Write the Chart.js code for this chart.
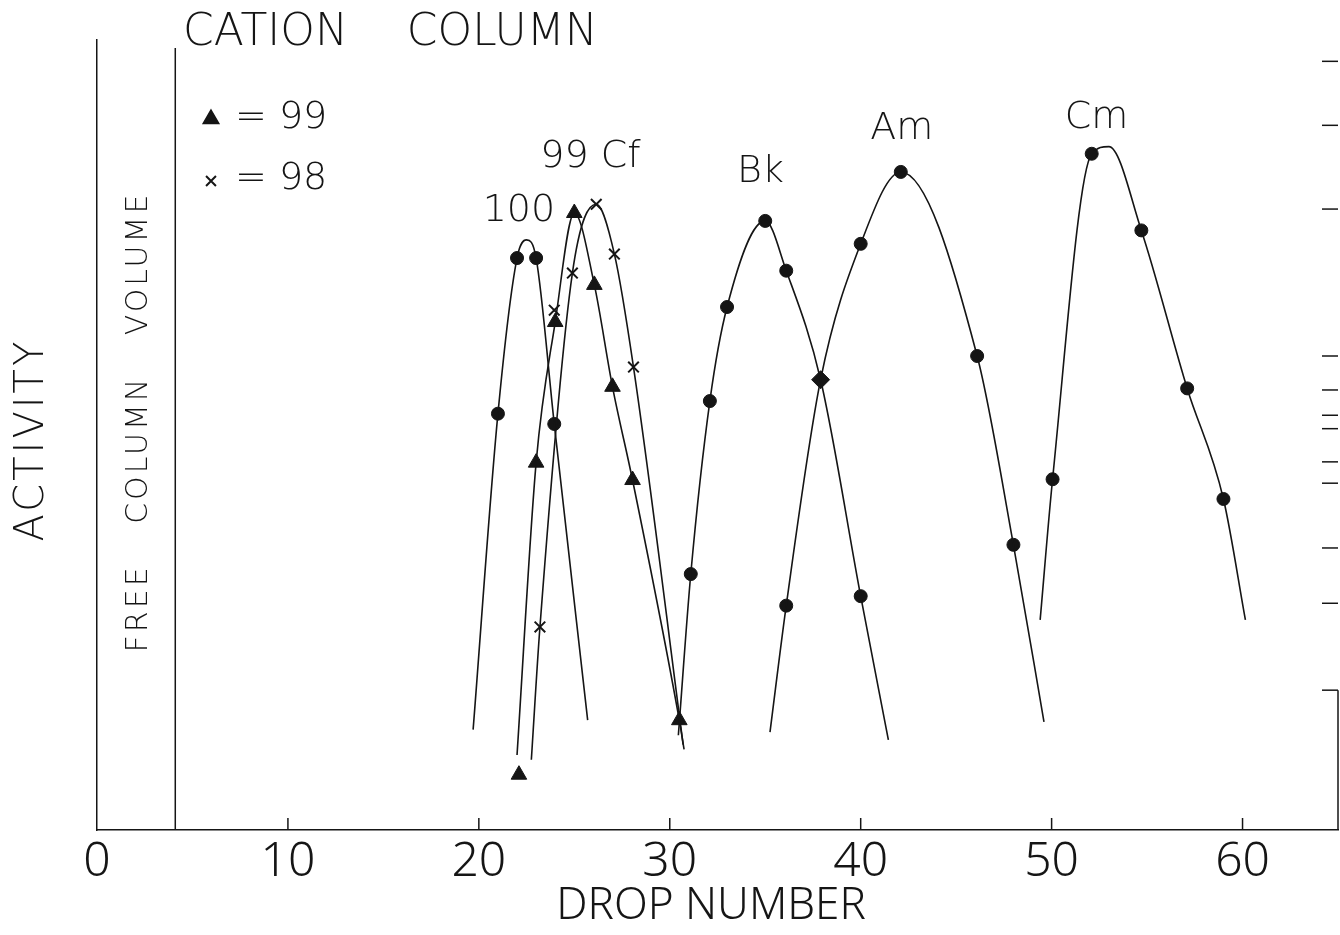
<!DOCTYPE html>
<html>
<head>
<meta charset="utf-8">
<title>Cation column</title>
<script src="https://cdn.jsdelivr.net/npm/chart.js@4.4.1/dist/chart.umd.min.js"></script>
<style>
  html, body { margin: 0; padding: 0; background: #ffffff; }
</style>
</head>
<body>
<canvas id="colunaCations" width="1340" height="935"></canvas>
<script>
// tick labels of the drop axis
const xTickValues = [0, 10, 20, 30, 40, 50, 60]

// element 100 (filled circles)
const fmDrops = [21.0, 22.0, 23.0, 23.95]
const fmActivity = [52.7, 72.4, 72.4, 51.4]
const fmCurveDrops = [19.7, 21.0, 22.0, 22.5, 23.0, 23.95, 25.7]
const fmCurveActivity = [12.7, 52.7, 72.4, 74.7, 72.4, 51.4, 13.9]

// element 99 (triangles)
const esDrops = [22.1, 23.0, 24.0, 25.0, 26.05, 27.0, 28.05, 30.5]
const esActivity = [7.0, 46.5, 64.3, 78.1, 69.0, 56.1, 44.3, 13.9]
const esCurveDrops = [22.0, 23.0, 24.0, 25.0, 26.05, 27.0, 28.05, 30.5, 30.75]
const esCurveActivity = [9.5, 46.5, 64.3, 78.1, 69.0, 56.1, 44.3, 13.9, 10.2]

// element 98, Cf (crosses)
const cfDrops = [23.2, 23.95, 24.9, 26.15, 27.1, 28.1]
const cfActivity = [25.7, 65.8, 70.5, 79.2, 72.9, 58.6]
const cfCurveDrops = [22.75, 23.2, 24.9, 26.15, 27.1, 28.1, 30.7]
const cfCurveActivity = [8.9, 25.7, 70.5, 79.2, 72.9, 58.6, 10.8]

// Bk
const bkDrops = [31.1, 32.1, 33.0, 35.0, 36.1, 40.0]
const bkActivity = [32.4, 54.3, 66.2, 77.1, 70.8, 29.6]
const bkCurveDrops = [30.45, 31.1, 32.1, 33.0, 35.0, 36.1, 37.9, 40.0, 41.45]
const bkCurveActivity = [12.0, 32.4, 54.3, 66.2, 77.1, 70.8, 57.0, 29.6, 11.4]

// point where Bk and Am cross (diamond)
const crossDrops = [37.9]
const crossActivity = [57.0]

// Am
const amDrops = [36.1, 40.0, 42.1, 46.1, 48.0]
const amActivity = [28.4, 74.2, 83.3, 60.0, 36.1]
const amCurveDrops = [35.25, 36.1, 37.9, 40.0, 42.1, 46.1, 48.0, 49.6]
const amCurveActivity = [12.4, 28.4, 57.0, 74.2, 83.3, 60.0, 36.1, 13.7]

// Cm
const cmDrops = [50.05, 52.1, 54.7, 57.1, 59.0]
const cmActivity = [44.4, 85.6, 75.9, 55.9, 41.9]
const cmCurveDrops = [49.4, 50.05, 52.1, 53.0, 54.7, 57.1, 59.0, 60.15]
const cmCurveActivity = [26.6, 44.4, 85.6, 86.5, 75.9, 55.9, 41.9, 26.6]

// free column volume line and right-hand scale ticks
const freeVolumeDrop = 4.1
const rightTickActivity = [97.3, 89.2, 78.6, 60.0, 55.7, 52.5, 50.8, 46.6, 43.9, 35.7, 28.7, 17.7]

// peak labels
const peakLabels = ["100", "99 Cf", "Bk", "Am", "Cm"]
const peakLabelDrops = [22.1, 25.85, 34.75, 42.15, 52.35]
const peakLabelActivity = [78.4, 85.2, 83.3, 88.7, 90.1]

const FONTE = "'DejaVu Sans', sans-serif"
const FONTE_ESTREITA = "'Noto Sans', 'DejaVu Sans', sans-serif"
const TINTA = '#151515'

function pontos(xs, ys) {
    return xs.map((v, i) => ({ x: v, y: ys[i] }))
}

function curva(xs, ys) {
    return {
        type: 'line',
        data: pontos(xs, ys),
        borderColor: TINTA,
        borderWidth: 1.6,
        pointRadius: 0,
        cubicInterpolationMode: 'monotone',
        fill: false
    }
}

function marcadores(xs, ys, estilo, raio) {
    const cruz = estilo === 'crossRot'
    return {
        type: 'scatter',
        data: pontos(xs, ys),
        pointStyle: estilo,
        pointRadius: raio,
        pointBackgroundColor: TINTA,
        pointBorderColor: TINTA,
        pointBorderWidth: cruz ? 2 : 1,
        showLine: false
    }
}

const anotacoes = {
    id: 'anotacoes',
    afterDraw(chart) {
        const { ctx, scales: { x, y } } = chart
        ctx.save()
        ctx.strokeStyle = TINTA
        ctx.fillStyle = TINTA
        ctx.lineWidth = 1.5

        // inner ticks on the drop axis
        xTickValues.slice(1).forEach(v => {
            const px = x.getPixelForValue(v)
            ctx.beginPath()
            ctx.moveTo(px, y.bottom)
            ctx.lineTo(px, y.bottom - 12)
            ctx.stroke()
        })

        // free column volume line
        const fx = x.getPixelForValue(freeVolumeDrop)
        ctx.beginPath()
        ctx.moveTo(fx, y.getPixelForValue(99))
        ctx.lineTo(fx, y.bottom)
        ctx.stroke()

        // right-hand edge with its ticks
        const rx = x.right
        ctx.beginPath()
        ctx.moveTo(rx, y.getPixelForValue(rightTickActivity[rightTickActivity.length - 1]))
        ctx.lineTo(rx, y.bottom)
        ctx.stroke()
        rightTickActivity.forEach(v => {
            const py = y.getPixelForValue(v)
            ctx.beginPath()
            ctx.moveTo(rx, py)
            ctx.lineTo(rx - 16, py)
            ctx.stroke()
        })

        // peak labels
        ctx.textAlign = 'center'
        ctx.textBaseline = 'middle'
        ctx.font = '200 38px ' + FONTE
        peakLabels.forEach((t, i) => {
            ctx.fillText(t, x.getPixelForValue(peakLabelDrops[i]), y.getPixelForValue(peakLabelActivity[i]))
        })

        // title
        ctx.textAlign = 'left'
        ctx.font = '200 44px ' + FONTE
        ctx.wordSpacing = '45px'
        ctx.fillText('CATION COLUMN', 183, 34)
        ctx.wordSpacing = '0px'

        // key
        ctx.font = '200 38px ' + FONTE
        Chart.helpers.drawPoint(ctx, { pointStyle: 'triangle', radius: 9, borderWidth: 1 }, 211, 119)
        ctx.fillText('= 99', 235, 118)
        ctx.lineWidth = 2
        Chart.helpers.drawPoint(ctx, { pointStyle: 'crossRot', radius: 7, borderWidth: 2 }, 211, 181)
        ctx.fillText('= 98', 235, 179)

        // axis titles
        ctx.textAlign = 'center'
        ctx.font = '300 44px ' + FONTE_ESTREITA
        ctx.letterSpacing = '0px'
        ctx.fillText('DROP NUMBER', 711, 906)

        ctx.save()
        ctx.translate(33, 440)
        ctx.rotate(-Math.PI / 2)
        ctx.font = '200 40px ' + FONTE
        ctx.letterSpacing = '3px'
        ctx.fillText('ACTIVITY', 0, 0)
        ctx.restore()

        ctx.save()
        ctx.translate(139, 422)
        ctx.rotate(-Math.PI / 2)
        ctx.font = '200 30px ' + FONTE
        ctx.letterSpacing = '3px'
        ctx.wordSpacing = '28px'
        ctx.fillText('FREE COLUMN VOLUME', 0, 0)
        ctx.restore()

        ctx.restore()
    }
}

new Chart(document.getElementById('colunaCations'), {
    data: {
        datasets: [
            curva(fmCurveDrops, fmCurveActivity),
            curva(esCurveDrops, esCurveActivity),
            curva(cfCurveDrops, cfCurveActivity),
            curva(bkCurveDrops, bkCurveActivity),
            curva(amCurveDrops, amCurveActivity),
            curva(cmCurveDrops, cmCurveActivity),
            marcadores(fmDrops, fmActivity, 'circle', 6.5),
            marcadores(esDrops, esActivity, 'triangle', 9),
            marcadores(cfDrops, cfActivity, 'crossRot', 7.5),
            marcadores(bkDrops, bkActivity, 'circle', 6.5),
            marcadores(crossDrops, crossActivity, 'rectRot', 9),
            marcadores(amDrops, amActivity, 'circle', 6.5),
            marcadores(cmDrops, cmActivity, 'circle', 6.5)
        ]
    },
    options: {
        responsive: false,
        animation: false,
        layout: {
            autoPadding: false,
            padding: { top: 40, right: 2, left: 0, bottom: 0 }
        },
        plugins: {
            legend: { display: false },
            tooltip: { enabled: false }
        },
        scales: {
            x: {
                type: 'linear',
                min: 0,
                max: 65,
                afterFit: s => { s.height = 105; s.paddingRight = 0; s.paddingLeft = 0 },
                afterBuildTicks: s => { s.ticks = xTickValues.map(v => ({ value: v })) },
                grid: { display: false, drawTicks: false },
                border: { display: true, color: TINTA, width: 1.5 },
                ticks: {
                    color: TINTA,
                    padding: 4,
                    maxRotation: 0,
                    font: { family: FONTE_ESTREITA, size: 48, weight: '300' }
                }
            },
            y: {
                type: 'linear',
                min: 0,
                max: 100,
                afterFit: s => { s.width = 97 },
                grid: { display: false, drawTicks: false },
                border: { display: true, color: TINTA, width: 1.5 },
                ticks: { display: false }
            }
        }
    },
    plugins: [anotacoes]
});
</script>
</body>
</html>
